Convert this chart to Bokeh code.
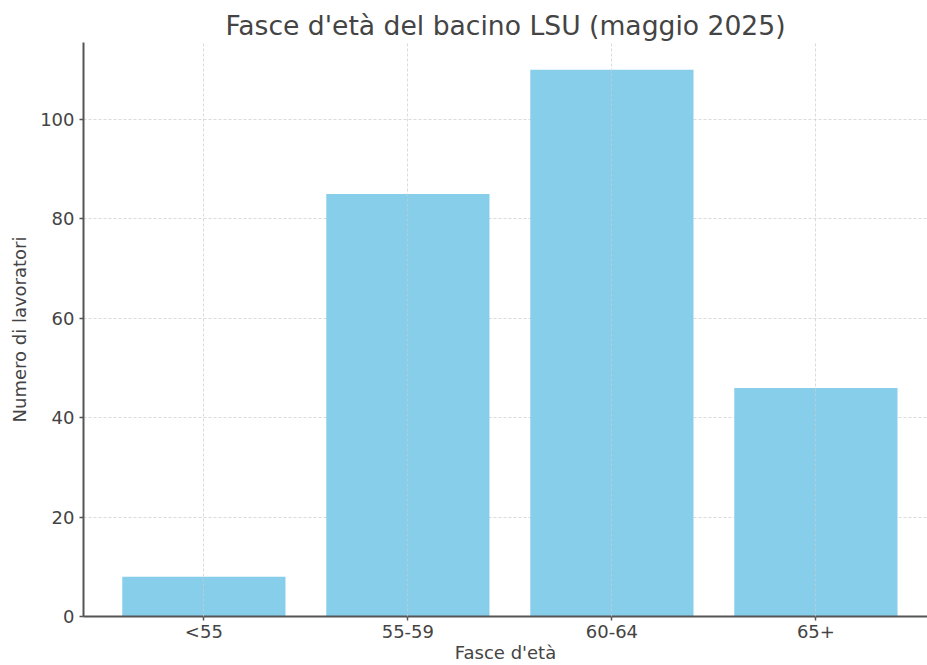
from bokeh.plotting import figure
from bokeh.models import Range1d, FixedTicker, ColumnDataSource
from bokeh.embed import file_html
from bokeh.resources import INLINE

categories = ["<55", "55-59", "60-64", "65+"]
workers = [8, 85, 110, 46]
y_ticks = [0, 20, 40, 60, 80, 100]

positions = list(range(len(categories)))
source = ColumnDataSource(dict(x=positions, top=workers))

FONT = "DejaVu Sans"
TXT = "#444444"
AX = "#555555"

p = figure(width=927, height=665, output_backend="svg", toolbar_location=None,
           x_range=Range1d(-0.59, 3.547), y_range=Range1d(0, 115.5),
           min_border_left=83, min_border_right=0, min_border_top=42, min_border_bottom=0)
p.outline_line_color = None

p.title.text = "Fasce d'età del bacino LSU (maggio 2025)"
p.title.align = "center"
p.title.text_font = FONT
p.title.text_font_size = "26.6px"
p.title.text_font_style = "normal"
p.title.text_color = TXT
p.title.standoff = 4
p.title.offset = 4

p.vbar(x="x", top="top", width=0.8, source=source, fill_color="#87CEEB", line_color=None)

for ax in (p.xaxis[0], p.yaxis[0]):
    ax.axis_line_color = AX
    ax.axis_line_width = 2
    ax.major_tick_line_color = AX
    ax.major_tick_line_width = 1.5
    ax.major_tick_out = 4
    ax.major_tick_in = 0
    ax.minor_tick_line_color = None
    ax.major_label_text_font = FONT
    ax.major_label_text_font_size = "18px"
    ax.major_label_text_color = TXT
    ax.major_label_text_line_height = 1.0
    ax.axis_label_text_font = FONT
    ax.axis_label_text_font_size = "18px"
    ax.axis_label_text_font_style = "normal"
    ax.axis_label_text_color = TXT
    ax.axis_label_text_line_height = 1.0

p.xaxis.ticker = FixedTicker(ticks=positions)
p.xaxis.major_label_overrides = {i: c for i, c in zip(positions, categories)}
p.xaxis.axis_label = "Fasce d'età"
p.xaxis.major_label_standoff = 0
p.xaxis.axis_label_standoff = -3

p.yaxis.ticker = FixedTicker(ticks=y_ticks)
p.yaxis.axis_label = "Numero di lavoratori"
p.yaxis.major_label_standoff = 5
p.yaxis.axis_label_standoff = 7

p.xgrid.ticker = FixedTicker(ticks=positions)
p.ygrid.ticker = FixedTicker(ticks=y_ticks)
for g in (p.xgrid[0], p.ygrid[0]):
    g.grid_line_color = "#cccccc"
    g.grid_line_dash = "3 2"
    g.grid_line_width = 1
    g.grid_line_alpha = 0.7
p.xgrid.level = "overlay"

open("out.html", "w").write(file_html(p, INLINE))
